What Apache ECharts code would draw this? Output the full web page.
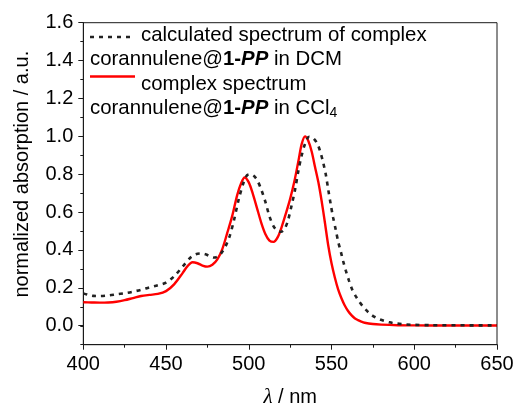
<!DOCTYPE html>
<html>
<head>
<meta charset="utf-8">
<script src="https://cdn.jsdelivr.net/npm/echarts@6/dist/echarts.min.js"></script>
<style>
html,body{margin:0;padding:0;background:#fff;}
#main{width:515px;height:407px;}
</style>
</head>
<body>
<div id="main"></div>
<script>
// ---- data ----
var calcWavelength = [400,403,406,410,415,420,425,430,435,440,445,450,455,460,465,468,471,474,477,479,481,483.5,486,488.5,491,494,497,499,501,503,505,507.5,510,512.5,515,517.5,519.5,521.5,523.5,526,528,530,532,534,536.5,539,541.5,543.5,545,546.6,548,549.6,551,552.6,554,555.6,557,558.6,560.6,562.7,564.7,566.7,568.7,570.7,573,575.7,578.7,581.7,585,589,595,600,610,650];
var calcAbs = [0.171,0.163,0.158,0.157,0.160,0.166,0.172,0.180,0.190,0.203,0.214,0.228,0.262,0.312,0.362,0.378,0.382,0.377,0.365,0.360,0.365,0.385,0.420,0.475,0.555,0.670,0.760,0.795,0.800,0.792,0.770,0.720,0.655,0.578,0.525,0.500,0.496,0.510,0.550,0.640,0.720,0.820,0.900,0.960,0.998,0.990,0.960,0.910,0.860,0.796,0.720,0.637,0.570,0.505,0.445,0.392,0.342,0.292,0.237,0.187,0.155,0.128,0.105,0.085,0.065,0.048,0.035,0.026,0.018,0.012,0.007,0.005,0.003,0.002];

var expWavelength = [400,405,410,415,420,425,430,435,440,445,450,455,460,463,466,469,472,475,478,481,484,487,490,493,495.5,497.5,500,502.5,505,507.5,510,512.5,515,517.5,520,522.5,525,527.5,530,532,534,536,538,540,542,544,546,548,550,552,554,556,558,560,562,564,566,568,570,575,580,590,600,620,650];
var expAbs = [0.124,0.123,0.122,0.123,0.127,0.135,0.146,0.157,0.163,0.168,0.183,0.220,0.278,0.315,0.335,0.330,0.318,0.312,0.322,0.350,0.405,0.490,0.580,0.690,0.755,0.783,0.757,0.695,0.620,0.545,0.485,0.450,0.443,0.468,0.525,0.595,0.670,0.760,0.870,0.960,1.000,0.975,0.920,0.840,0.760,0.660,0.545,0.425,0.330,0.255,0.192,0.145,0.107,0.078,0.056,0.040,0.030,0.022,0.016,0.009,0.006,0.003,0.002,0.001,0.001];

var yMajorTicks = [0.0,0.2,0.4,0.6,0.8,1.0,1.2,1.4,1.6];
var xMajorTicks = [400,450,500,550,600,650];

function pairs(xs, ys){ var o=[]; for(var i=0;i<xs.length;i++){ o.push([xs[i], ys[i]]); } return o; }

var FONT = 'Liberation Sans';
var LF = 20.4; // legend font size
var AX = '#1a1a1a';
var chart = echarts.init(document.getElementById('main'), null, {renderer:'canvas'});

var option = {
  backgroundColor:'#fff',
  animation:false,
  textStyle:{fontFamily:FONT},
  grid:[
    {left:83.3, right:18, top:22.7, height:322, show:true, borderColor:AX, borderWidth:1, backgroundColor:'transparent', containLabel:false, outerBoundsMode:'none'},
    {left:83.3, right:18, top:22.7, height:303, containLabel:false, outerBoundsMode:'none'}
  ],
  xAxis:[
    {type:'value', gridIndex:0, position:'bottom', min:400, max:650, interval:25,
     axisLine:{show:true, onZero:false, lineStyle:{color:AX, width:1}},
     axisTick:{show:true, length:3, lineStyle:{color:AX}},
     axisLabel:{show:false}, splitLine:{show:false}},
    {type:'value', gridIndex:0, position:'bottom', min:400, max:650, interval:50,
     axisLine:{show:false, onZero:false},
     axisTick:{show:true, length:5, lineStyle:{color:AX}},
     axisLabel:{show:true, margin:10, color:'#000', fontSize:20, fontFamily:FONT,
       formatter:function(v){ return xMajorTicks.indexOf(v)>=0 ? String(v) : ''; }},
     splitLine:{show:false},
     name:'{i|λ} / nm', nameLocation:'middle', nameGap:42,
     nameTextStyle:{color:'#000', fontSize:20, fontFamily:FONT,
       rich:{i:{fontFamily:'Liberation Serif', fontStyle:'italic', fontSize:21, color:'#000'}}}},
    {type:'value', gridIndex:1, min:400, max:650, show:false}
  ],
  yAxis:[
    {type:'value', gridIndex:0, position:'left', min:-0.1, max:1.6, interval:0.1,
     axisLine:{show:true, onZero:false, lineStyle:{color:AX, width:1}},
     axisTick:{show:true, length:3, lineStyle:{color:AX}},
     axisLabel:{show:false}, splitLine:{show:false}},
    {type:'value', gridIndex:1, position:'left', min:0, max:1.6, interval:0.2,
     axisLine:{show:false, onZero:false},
     axisTick:{show:true, length:5, lineStyle:{color:AX}},
     axisLabel:{show:true, margin:10, color:'#000', fontSize:20, fontFamily:FONT,
       formatter:function(v){
         for (var i=0;i<yMajorTicks.length;i++){ if (Math.abs(yMajorTicks[i]-v)<1e-6) return yMajorTicks[i].toFixed(1); }
         return '';
       }},
     splitLine:{show:false},
     name:'normalized absorption / a.u.', nameLocation:'middle', nameGap:51,
     nameTextStyle:{color:'#000', fontSize:20, fontFamily:FONT}}
  ],
  series:[
    {type:'line', name:'calc', xAxisIndex:0, yAxisIndex:0, data:pairs(calcWavelength, calcAbs),
     showSymbol:false, smooth:0.3, z:3,
     lineStyle:{color:'#222', width:2.6, type:[4,5]}},
    {type:'line', name:'exp', xAxisIndex:0, yAxisIndex:0, data:pairs(expWavelength, expAbs),
     showSymbol:false, smooth:0.3, z:2,
     lineStyle:{color:'#ff0000', width:2.4}}
  ],
  graphic:[
    {type:'line', shape:{x1:90, y1:37, x2:135, y2:37}, style:{stroke:'#222', lineWidth:2.6, lineDash:[4,5]}},
    {type:'text', x:141, y:35, style:{text:'calculated spectrum of complex', font:LF+'px "Liberation Sans"', fill:'#000', verticalAlign:'middle'}},
    {type:'text', x:90, y:59, style:{
      text:'corannulene@{b|1-}{bi|PP} in DCM', font:LF+'px "Liberation Sans"', fill:'#000', verticalAlign:'middle',
      rich:{b:{fontWeight:'bold', fontSize:LF, fontFamily:FONT, fill:'#000'}, bi:{fontWeight:'bold', fontStyle:'italic', fontSize:LF, fontFamily:FONT, fill:'#000'}}}},
    {type:'line', shape:{x1:90, y1:76.5, x2:135, y2:76.5}, style:{stroke:'#ff0000', lineWidth:2.4}},
    {type:'text', x:141, y:84, style:{text:'complex spectrum', font:LF+'px "Liberation Sans"', fill:'#000', verticalAlign:'middle'}},
    {type:'text', x:90, y:108, style:{
      text:'{n|corannulene@}{b|1-}{bi|PP}{n| in CCl}{s|4}', fill:'#000', verticalAlign:'middle',
      rich:{
        n:{fontSize:LF, fontFamily:FONT, fill:'#000', lineHeight:24},
        b:{fontWeight:'bold', fontSize:LF, fontFamily:FONT, fill:'#000', lineHeight:24},
        bi:{fontWeight:'bold', fontStyle:'italic', fontSize:LF, fontFamily:FONT, fill:'#000', lineHeight:24},
        s:{fontSize:14, fontFamily:FONT, fill:'#000', lineHeight:10, verticalAlign:'bottom'}
      }}}
  ]
};
chart.setOption(option);
</script>
</body>
</html>
